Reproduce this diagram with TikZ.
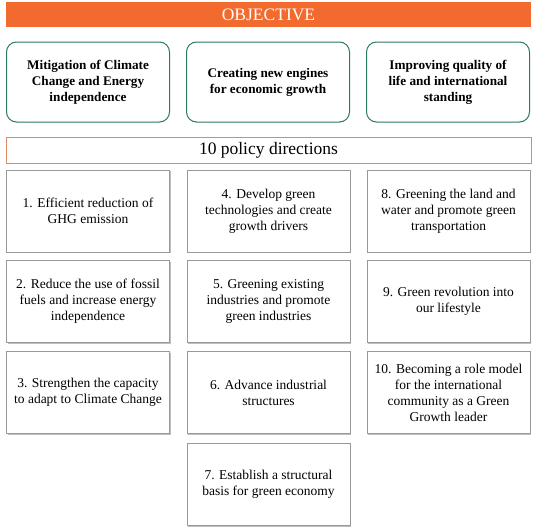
\documentclass[tikz,border=0pt]{standalone}
\usepackage{fontspec}
\setmainfont{Liberation Serif}
\usetikzlibrary{shadows}
\definecolor{objorange}{HTML}{F26A2E}
\definecolor{lineorange}{HTML}{E08A62}
\definecolor{goalgreen}{HTML}{2A7A5E}
\definecolor{boxgray}{HTML}{999999}
\tikzset{
  banner/.style={fill=objorange,draw=none,minimum width=525pt,minimum height=25pt,
    text=white,font=\fontsize{17.5}{19}\selectfont,inner sep=0pt},
  policy/.style={draw=lineorange,line width=0.9pt,fill=white,minimum width=525pt,minimum height=26pt,
    font=\fontsize{17.5}{19}\selectfont,inner sep=0pt},
  goal/.style={draw=goalgreen,line width=1pt,rounded corners=10pt,minimum width=163pt,minimum height=80pt,
    align=center,font=\bfseries\fontsize{13.2}{16}\selectfont,inner sep=0pt},
  direction/.style={draw=boxgray,line width=0.8pt,fill=white,minimum width=163pt,minimum height=82pt,
    align=center,font=\fontsize{13.5}{16}\selectfont,inner sep=0pt,
    drop shadow={shadow xshift=1.4pt,shadow yshift=-1.4pt,fill=gray!50,opacity=1}}
}
\begin{document}
\begin{tikzpicture}[x=1pt,y=-1pt]
\useasboundingbox (0,0) rectangle (537,530);
% objective
\node[banner] (objective) at (268.5,14.5) {OBJECTIVE};
\node[goal] (mitigation) at (88,82) {Mitigation of Climate\\Change and Energy\\independence};
\node[goal] (engines) at (268,82) {Creating new engines\\for economic growth};
\node[goal] (quality) at (448,82) {Improving quality of\\life and international\\standing};
% policy directions
\node[policy] (policy) at (268.5,150) {10 policy directions};
\node[direction] (d1) at (88,211) {1. Efficient reduction of\\GHG emission};
\node[direction] (d2) at (88,301.5) {2. Reduce the use of fossil\\fuels and increase energy\\independence};
\node[direction] (d3) at (88,392.5) {3. Strengthen the capacity\\to adapt to Climate Change};
\node[direction] (d4) at (268.5,211) {4. Develop green\\technologies and create\\growth drivers};
\node[direction] (d5) at (268.5,301.5) {5. Greening existing\\industries and promote\\green industries};
\node[direction] (d6) at (268.5,392.5) {6. Advance industrial\\structures};
\node[direction] (d7) at (268.5,484.5) {7. Establish a structural\\basis for green economy};
\node[direction] (d8) at (448.5,211) {8. Greening the land and\\water and promote green\\transportation};
\node[direction] (d9) at (448.5,301.5) {9. Green revolution into\\our lifestyle};
\node[direction] (d10) at (448.5,392.5) {10. Becoming a role model\\for the international\\community as a Green\\Growth leader};
\end{tikzpicture}
\end{document}
